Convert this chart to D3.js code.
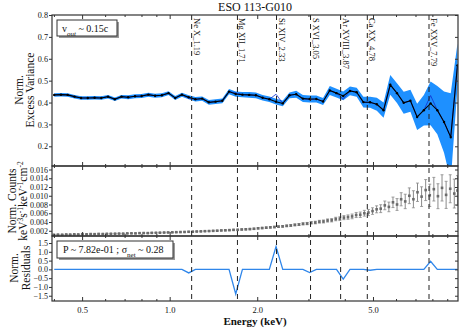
<!DOCTYPE html>
<html>
<head>
<meta charset="utf-8">
<script src="https://cdn.jsdelivr.net/npm/d3@7"></script>
<style>
  body { margin: 0; background: #fff; }
  text { font-family: "Liberation Serif", "DejaVu Serif", serif; fill: #111; }
</style>
</head>
<body>
<svg id="chart" width="463" height="331"></svg>
<script>
// ---- data ----
// excess variance spectrum (energy bins in keV)
var varEnergy = [0.401,0.423,0.446,0.471,0.496,0.523,0.552,0.582,0.614,0.648,0.683,0.720,0.760,0.801,0.845,0.891,0.940,0.991,1.045,1.102,
  1.163,1.226,1.293,1.364,1.438,1.517,1.600,1.687,1.779,1.876,1.979,2.087,2.201,2.321,2.448,2.582,2.723,2.871,3.028,3.194,
  3.368,3.552,3.746,3.951,4.167,4.394,4.634,4.887,5.154,5.436,5.733,6.046,6.376,6.725,7.092,7.479,7.889,8.319,8.774,9.253,9.759];
var varValue = [0.435,0.436,0.435,0.427,0.421,0.421,0.422,0.421,0.427,0.415,0.427,0.424,0.429,0.430,0.436,0.431,0.433,0.443,0.421,0.436,
  0.424,0.415,0.418,0.401,0.404,0.408,0.450,0.439,0.436,0.435,0.433,0.422,0.415,0.404,0.396,0.433,0.438,0.418,0.416,0.416,
  0.405,0.455,0.443,0.430,0.453,0.447,0.402,0.401,0.392,0.365,0.481,0.443,0.399,0.408,0.334,0.365,0.396,0.365,0.311,0.242,0.570];
var varError = [0.008,0.008,0.008,0.008,0.008,0.008,0.008,0.008,0.008,0.008,0.008,0.009,0.009,0.009,0.009,0.009,0.009,0.009,0.009,0.009,
  0.009,0.010,0.010,0.011,0.011,0.011,0.012,0.012,0.012,0.013,0.013,0.013,0.013,0.013,0.013,0.013,0.016,0.016,0.016,0.016,
  0.016,0.020,0.020,0.020,0.020,0.020,0.025,0.025,0.030,0.035,0.045,0.045,0.050,0.050,0.060,0.070,0.100,0.110,0.140,0.200,0.100];
var varModel = [0.435,0.436,0.435,0.427,0.421,0.421,0.422,0.421,0.427,0.415,0.427,0.424,0.429,0.430,0.436,0.431,0.433,0.443,0.421,0.436,
  0.420,0.415,0.418,0.401,0.404,0.408,0.450,0.444,0.436,0.435,0.433,0.422,0.415,0.438,0.396,0.433,0.438,0.418,0.413,0.416,
  0.405,0.455,0.443,0.415,0.453,0.447,0.402,0.400,0.392,0.365,0.481,0.443,0.399,0.408,0.334,0.365,0.432,0.365,0.311,0.242,0.570];
var residual = [0,0,0,0,0,0,0,0,0,0,0,0,0,0,0,0,0,0,0,0,
  -0.2,0,0,0,0,0,0,-1.4,0,0,0,0,0,1.3,0,0,0,0,-0.18,0,
  0,0,0,-0.55,0,0,0,-0.05,0,0,0,0,0,0,0,0,0.46,0,0,0,0];

// normalised counts spectrum
var cntEnergy = [0.400,0.413,0.427,0.441,0.455,0.470,0.485,0.501,0.518,0.535,0.552,0.570,0.589,0.608,0.628,0.649,0.670,0.692,0.715,0.739,
  0.763,0.788,0.814,0.841,0.868,0.897,0.926,0.957,0.988,1.021,1.054,1.089,1.125,1.162,1.200,1.239,1.280,1.322,1.366,1.411,
  1.457,1.505,1.554,1.605,1.658,1.713,1.769,1.827,1.887,1.949,2.014,2.080,2.148,2.219,2.292,2.367,2.445,2.525,2.608,2.694,
  2.783,2.874,2.969,3.066,3.167,3.271,3.379,3.490,3.605,3.723,3.846,3.972,4.103,4.238,4.377,4.521,4.670,4.823,4.982,5.146,
  5.315,5.490,5.670,5.857,6.049,6.248,6.454,6.666,6.885,7.112,7.346,7.587,7.837,8.094,8.361,8.636,8.920,9.213,9.516,9.760];
var cntValue = [0.00108,0.00112,0.00110,0.00115,0.00113,0.00118,0.00116,0.00121,0.00119,0.00124,0.00122,0.00127,0.00125,0.00130,0.00131,0.00133,0.00135,0.00134,0.00139,0.00141,
  0.00140,0.00145,0.00147,0.00146,0.00152,0.00154,0.00156,0.00159,0.00161,0.00164,0.00167,0.00170,0.00172,0.00177,0.00179,0.00183,0.00186,0.00190,0.00193,0.00198,
  0.00201,0.00207,0.00210,0.00214,0.00220,0.00222,0.00229,0.00233,0.00238,0.00245,0.00256,0.00262,0.00270,0.00278,0.00285,0.00294,0.00300,0.00312,0.00320,0.00334,
  0.00342,0.00358,0.00364,0.00382,0.00388,0.00406,0.00412,0.00434,0.00440,0.00468,0.00476,0.00500,0.00512,0.00528,0.00560,0.00566,0.00600,0.00616,0.00650,0.00690,
  0.00705,0.00780,0.00745,0.00850,0.00800,0.00920,0.00870,0.01000,0.00920,0.01080,0.00980,0.01130,0.01010,0.01150,0.00990,0.01180,0.01020,0.01160,0.01050,0.01120];
var cntError = [0.00004,0.00004,0.00004,0.00004,0.00004,0.00004,0.00004,0.00004,0.00004,0.00004,0.00005,0.00005,0.00005,0.00005,0.00005,0.00005,0.00005,0.00005,0.00005,0.00005,
  0.00006,0.00006,0.00006,0.00006,0.00006,0.00006,0.00006,0.00007,0.00007,0.00007,0.00007,0.00007,0.00007,0.00008,0.00008,0.00008,0.00008,0.00008,0.00009,0.00009,
  0.00010,0.00010,0.00011,0.00011,0.00012,0.00012,0.00013,0.00013,0.00014,0.00014,0.00015,0.00015,0.00016,0.00016,0.00017,0.00018,0.00018,0.00019,0.00020,0.00021,
  0.00022,0.00024,0.00026,0.00028,0.00030,0.00032,0.00034,0.00036,0.00038,0.00040,0.00043,0.00046,0.00050,0.00054,0.00058,0.00062,0.00066,0.00070,0.00075,0.00080,
  0.00090,0.00100,0.00110,0.00120,0.00135,0.00150,0.00165,0.00180,0.00195,0.00210,0.00225,0.00240,0.00255,0.00270,0.00285,0.00300,0.00310,0.00320,0.00330,0.00340];

// line energies (blueshifted)
var lineEnergy = [1.19, 1.71, 2.33, 3.05, 3.87, 4.78, 7.79];
var lineName = ["Ne X", "Mg XII", "Si XIV", "S XVI", "Ar XVIII", "Ca XX", "Fe XXV"];

var xMajor = [0.5, 1.0, 2.0, 5.0];
var xMinor = [0.4, 0.6, 0.7, 0.8, 0.9, 3, 4, 6, 7, 8, 9];
var varTicks = [0.2, 0.3, 0.4, 0.5, 0.6, 0.7, 0.8];
var cntTicks = [0.002, 0.004, 0.006, 0.008, 0.010, 0.012, 0.014, 0.016];
var resTicks = [-1.5, -1.0, -0.5, 0.0, 0.5, 1.0, 1.5];

// ---- layout ----
var svg = d3.select("#chart");
var left = 52, right = 458;
var p1 = {top: 15, bottom: 166}, p2 = {top: 166, bottom: 236}, p3 = {top: 236, bottom: 301};

var x = d3.scaleLog().domain([0.394, 9.8]).range([left, right]);
var y1 = d3.scaleLinear().domain([0.11, 0.8]).range([p1.bottom, p1.top]);
var y2 = d3.scaleLinear().domain([0.0008, 0.0168]).range([p2.bottom, p2.top]);
var y3 = d3.scaleLinear().domain([-1.8, 1.9]).range([p3.bottom, p3.top]);

var defs = svg.append("defs");
[p1, p2, p3].forEach(function (p, i) {
  defs.append("clipPath").attr("id", "clip" + i).append("rect")
    .attr("x", left).attr("y", p.top).attr("width", right - left).attr("height", p.bottom - p.top);
});

var blue = "#1e90ff";

// panel 1: excess variance
var g1 = svg.append("g").attr("clip-path", "url(#clip0)");
var varPts = varEnergy.map(function (e, i) {
  return {e: e, v: varValue[i], err: varError[i], m: varModel[i], r: residual[i]};
});
g1.append("path").datum(varPts)
  .attr("fill", blue)
  .attr("d", d3.area().x(function (d) { return x(d.e); })
    .y0(function (d) { return y1(d.v - d.err); })
    .y1(function (d) { return y1(d.v + d.err); }));
g1.append("path").datum(varPts)
  .attr("fill", "none").attr("stroke", "#1030d0").attr("stroke-width", 0.8)
  .attr("d", d3.line().x(function (d) { return x(d.e); }).y(function (d) { return y1(d.m); }));
g1.append("path").datum(varPts)
  .attr("fill", "none").attr("stroke", "#000").attr("stroke-width", 1.1)
  .attr("d", d3.line().x(function (d) { return x(d.e); }).y(function (d) { return y1(d.v); }));
g1.selectAll("circle").data(varPts).enter().append("circle")
  .attr("cx", function (d) { return x(d.e); })
  .attr("cy", function (d) { return y1(d.v); })
  .attr("r", 1.2).attr("fill", "#000");

// panel 2: counts with error bars
var g2 = svg.append("g").attr("clip-path", "url(#clip1)");
var cntPts = cntEnergy.map(function (e, i) { return {e: e, v: cntValue[i], err: cntError[i]}; });
var bars = g2.selectAll("g.bar").data(cntPts).enter().append("g").attr("class", "bar");
bars.append("line")
  .attr("x1", function (d) { return x(d.e); }).attr("x2", function (d) { return x(d.e); })
  .attr("y1", function (d) { return y2(d.v - d.err); })
  .attr("y2", function (d) { return y2(d.v + d.err); })
  .attr("stroke", "#8a8a8a").attr("stroke-width", 1);
[-1, 1].forEach(function (s) {
  bars.append("line")
    .attr("x1", function (d) { return x(d.e) - 1.5; }).attr("x2", function (d) { return x(d.e) + 1.5; })
    .attr("y1", function (d) { return y2(d.v + s * d.err); })
    .attr("y2", function (d) { return y2(d.v + s * d.err); })
    .attr("stroke", "#8a8a8a").attr("stroke-width", 0.8);
});
bars.append("rect")
  .attr("x", function (d) { return x(d.e) - 1.3; })
  .attr("y", function (d) { return y2(d.v) - 1.3; })
  .attr("width", 2.6).attr("height", 2.6).attr("fill", "#6b6b6b");

// panel 3: residuals
var g3 = svg.append("g").attr("clip-path", "url(#clip2)");
g3.append("path").datum(varPts)
  .attr("fill", "none").attr("stroke", "#2f86ea").attr("stroke-width", 1.3)
  .attr("d", d3.line().x(function (d) { return x(d.e); }).y(function (d) { return y3(d.r); }));

// dashed line markers across all panels
svg.selectAll("line.em").data(lineEnergy).enter().append("line").attr("class", "em")
  .attr("x1", function (d) { return x(d); }).attr("x2", function (d) { return x(d); })
  .attr("y1", p1.top).attr("y2", p3.bottom)
  .attr("stroke", "#222").attr("stroke-width", 1).attr("stroke-dasharray", "5,4");
svg.selectAll("text.em").data(lineEnergy).enter().append("text").attr("class", "em")
  .attr("transform", function (d) { return "translate(" + (x(d) + 2) + "," + (p1.top + 3) + ") rotate(90)"; })
  .attr("font-size", 8.5)
  .text(function (d, i) { return lineName[i] + "_" + d3.format(".2f")(d); });

// axes
function xTicks(p, labels) {
  var specs = [[xMajor, 4], [xMinor, 2]];
  specs.forEach(function (s) {
    var b = svg.append("g").attr("transform", "translate(0," + p.bottom + ")")
      .call(d3.axisBottom(x).tickValues(s[0]).tickSize(-s[1]).tickPadding(6)
        .tickFormat(labels && s[0] === xMajor ? d3.format(".1f") : ""));
    var t = svg.append("g").attr("transform", "translate(0," + p.top + ")")
      .call(d3.axisTop(x).tickValues(s[0]).tickSize(-s[1]).tickFormat(""));
    [b, t].forEach(function (a) {
      a.select(".domain").remove();
      a.selectAll("line").attr("stroke", "#333");
      a.selectAll("text").attr("font-size", 8.5).attr("fill", "#111");
    });
  });
}
function yTicks(scale, ticks, fmt, fs) {
  var l = svg.append("g").attr("transform", "translate(" + left + ",0)")
    .call(d3.axisLeft(scale).tickValues(ticks).tickSize(3).tickPadding(1).tickFormat(fmt));
  var r = svg.append("g").attr("transform", "translate(" + right + ",0)")
    .call(d3.axisRight(scale).tickValues(ticks).tickSize(-3).tickFormat(""));
  [l, r].forEach(function (a) {
    a.select(".domain").remove();
    a.selectAll("line").attr("stroke", "#333");
    a.selectAll("text").attr("font-size", fs).attr("fill", "#111");
  });
}
xTicks(p1, false); xTicks(p2, false); xTicks(p3, true);
yTicks(y1, varTicks, d3.format(".1f"), 8.2);
yTicks(y2, cntTicks, d3.format(".3f"), 8);
yTicks(y3, resTicks, d3.format(".1f"), 8);

[p1, p2, p3].forEach(function (p) {
  svg.append("rect").attr("x", left).attr("y", p.top)
    .attr("width", right - left).attr("height", p.bottom - p.top)
    .attr("fill", "none").attr("stroke", "#333").attr("stroke-width", 1.2);
});

// titles
svg.append("text").attr("x", 255).attr("y", 11).attr("text-anchor", "middle")
  .attr("font-size", 12).text("ESO 113-G010");
svg.append("text").attr("x", 255).attr("y", 325).attr("text-anchor", "middle")
  .attr("font-size", 11).attr("font-weight", "bold").text("Energy (keV)");

function yTitle(cy, xs, lines) {
  lines.forEach(function (parts, k) {
    var t = svg.append("text")
      .attr("transform", "translate(" + xs[k] + "," + cy + ") rotate(-90)")
      .attr("text-anchor", "middle").attr("font-size", 11.5);
    parts.forEach(function (pt) {
      var s = t.append("tspan").text(pt[0]);
      if (pt[1]) s.attr("baseline-shift", "super").attr("font-size", 7.5);
    });
  });
}
yTitle(90, [23, 34], [[["Norm."]], [["Excess Variance"]]]);
yTitle(201, [16, 27], [[["Norm. Counts"]], [["keV"], ["3", 1], ["s"], ["-1", 1], ["keV"], ["-1", 1], ["cm"], ["-2", 1]]]);
yTitle(268, [18, 30], [[["Norm."]], [["Residuals"]]]);

// annotation boxes
function box(bx, by, w, h) {
  svg.append("rect").attr("x", bx + 2).attr("y", by + 2).attr("width", w).attr("height", h).attr("fill", "#9a9a9a");
  svg.append("rect").attr("x", bx).attr("y", by).attr("width", w).attr("height", h)
    .attr("fill", "#fff").attr("stroke", "#333").attr("stroke-width", 1);
}
box(57, 20, 60, 16);
var t1 = svg.append("text").attr("x", 62).attr("y", 31.5).attr("font-size", 10);
t1.append("tspan").text("v");
t1.append("tspan").attr("baseline-shift", "sub").attr("font-size", 7).attr("font-style", "italic").text("out");
t1.append("tspan").text(" ~ 0.15c");

box(57, 241, 116, 17);
var t2 = svg.append("text").attr("x", 63).attr("y", 253).attr("font-size", 10);
t2.append("tspan").text("P ~ 7.82e-01 ; \u03c3");
t2.append("tspan").attr("baseline-shift", "sub").attr("font-size", 7).text("net");
t2.append("tspan").text(" ~ 0.28");
</script>
</body>
</html>
